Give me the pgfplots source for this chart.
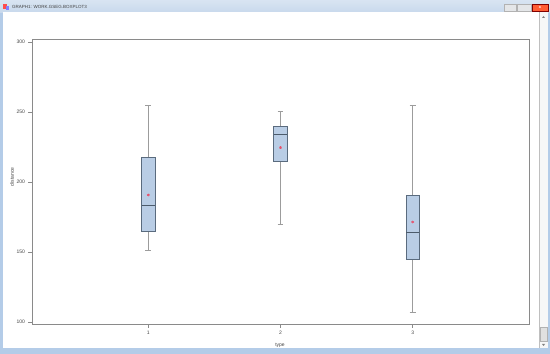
\documentclass[border=0pt]{standalone}
\usepackage{pgfplots}
\pgfplotsset{compat=1.18}
\usepackage{fontspec}
\setmainfont{Liberation Sans}
\definecolor{boxfill}{HTML}{B9CDE5}
\definecolor{boxedge}{HTML}{5A6B7E}
\definecolor{axgray}{HTML}{8A8A8A}
\definecolor{whgray}{HTML}{9C9C9C}
\definecolor{txtgray}{HTML}{454545}
\definecolor{titlebar}{HTML}{C8D9EC}
\definecolor{frameblue}{HTML}{B4CCE8}
\definecolor{meanred}{HTML}{E8506A}
\begin{document}
\begin{tikzpicture}
\begin{scope}[x=1pt,y=1pt]
\useasboundingbox (0,0) rectangle (550,354);
% window chrome
\fill[frameblue] (0,0) rectangle (550,354);
\shade[top color=titlebar!70!white, bottom color=titlebar] (0,341.5) rectangle (550,354);
\fill[white] (3,6) rectangle (539,341.5);
\fill[black!3] (539,6) rectangle (548,341.5);
\draw[black!25, line width=0.4pt] (539,6) -- (539,341.5);
\fill[black!12] (540,13) rectangle (547,27);
\draw[black!30, line width=0.3pt] (540,13) rectangle (547,27);
\fill[black!50] (542,336) -- (545,336) -- (543.5,338) -- cycle;
\fill[black!50] (542,10) -- (545,10) -- (543.5,8) -- cycle;
\node[anchor=west, inner sep=0pt, font=\fontsize{4.5}{5}\selectfont, text=black!75] at (12,347.5) {GRAPH1: WORK.GSEG.BOXPLOT3};
\fill[red!70!white] (3,345) rectangle (7,350);
\fill[blue!50!white] (6,344) rectangle (9,348);
\draw[black!30, fill=titlebar!60!black!20!white] (504,343) rectangle (516,350);
\draw[black!30, fill=titlebar!60!black!20!white] (517,343) rectangle (531,350);
\draw[red!50!black, fill=red!60!orange!80!white] (532,343) rectangle (548,350);
\node[font=\fontsize{4}{4}\selectfont\bfseries, text=white, inner sep=0pt] at (540,346.5) {x};
\end{scope}
\begin{axis}[
  at={(32pt,30pt)}, anchor=south west,
  scale only axis, width=497pt, height=285pt,
  xmin=0.12, xmax=3.88, ymin=98.6, ymax=302,
  xtick={1,2,3}, ytick={100,150,200,250,300},
  xtick pos=bottom, ytick pos=left,
  tick align=outside, major tick length=3.5pt,
  tick style={axgray, line width=0.6pt},
  axis line style={axgray, line width=0.8pt},
  ticklabel style={font=\fontsize{5}{6}\selectfont, text=txtgray},
  label style={font=\fontsize{5}{6}\selectfont, text=txtgray},
  /pgf/number format/assume math mode=true,
  xlabel={type}, ylabel={distance},
  xlabel style={at={(axis description cs:0.499,-0.074)}, anchor=center},
  ylabel style={at={(axis description cs:-0.0403,0.516)}, anchor=center},
  whisk/.style={whgray, line width=0.8pt, mark=none},
  boxs/.style={draw=boxedge, fill=boxfill, line width=0.8pt, mark=none},
  med/.style={draw=boxedge!85!black, line width=0.8pt, mark=none},
]
% type 1: whiskers 151.2/254.3, Q1 164.8, median 183.3, Q3 217.6
\addplot[whisk] coordinates {(1,217.6) (1,254.3)};
\addplot[whisk] coordinates {(1,164.8) (1,151.2)};
\addplot[whisk] coordinates {(0.9775,254.3) (1.0225,254.3)};
\addplot[whisk] coordinates {(0.9775,151.2) (1.0225,151.2)};
\addplot[boxs] coordinates {(0.95,164.8) (1.05,164.8) (1.05,217.6) (0.95,217.6)} -- cycle;
\addplot[med] coordinates {(0.95,183.3) (1.05,183.3)};
% type 2: whiskers 169.8/250.0, Q1 214.3, median 233.6, Q3 239.8
\addplot[whisk] coordinates {(2,239.8) (2,250.0)};
\addplot[whisk] coordinates {(2,214.3) (2,169.8)};
\addplot[whisk] coordinates {(1.9775,250.0) (2.0225,250.0)};
\addplot[whisk] coordinates {(1.9775,169.8) (2.0225,169.8)};
\addplot[boxs] coordinates {(1.95,214.3) (2.05,214.3) (2.05,239.8) (1.95,239.8)} -- cycle;
\addplot[med] coordinates {(1.95,233.6) (2.05,233.6)};
% type 3: whiskers 107.1/254.3, Q1 145.0, median 163.8, Q3 190.5
\addplot[whisk] coordinates {(3,190.5) (3,254.3)};
\addplot[whisk] coordinates {(3,145.0) (3,107.1)};
\addplot[whisk] coordinates {(2.9775,254.3) (3.0225,254.3)};
\addplot[whisk] coordinates {(2.9775,107.1) (3.0225,107.1)};
\addplot[boxs] coordinates {(2.95,145.0) (3.05,145.0) (3.05,190.5) (2.95,190.5)} -- cycle;
\addplot[med] coordinates {(2.95,163.8) (3.05,163.8)};
% means
\addplot[only marks, mark=asterisk, mark size=1.4pt, meanred, line width=0.6pt] coordinates {(1,190.7) (2,224.5) (3,171.4)};
\end{axis}
\end{tikzpicture}
\end{document}
